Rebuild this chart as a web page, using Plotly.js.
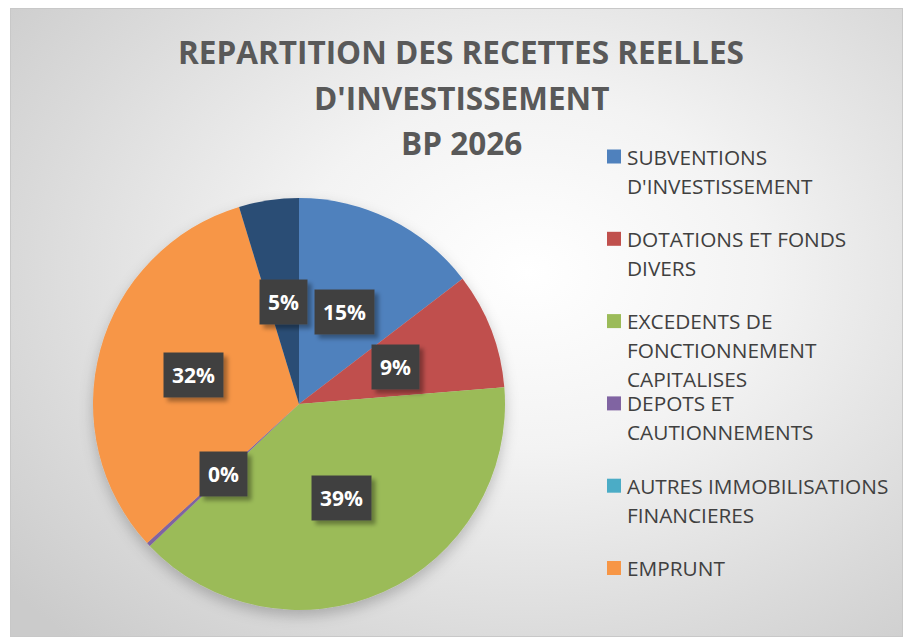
<!DOCTYPE html>
<html>
<head>
<meta charset="utf-8">
<script src="https://cdn.plot.ly/plotly-3.0.1.min.js"></script>
<style>
body{margin:0;background:#fff}
#frame{position:absolute;left:10px;top:8px;width:891px;height:627px;border:1px solid #c8c8c8;
  background:radial-gradient(ellipse 75% 80% at 58% 42%,#ffffff 0%,#f3f3f3 35%,#dadada 75%,#cbcbcb 100%)}
#chart{position:absolute;left:0;top:0;width:903px;height:637px}
</style>
</head>
<body>
<svg width="0" height="0" style="position:absolute">
  <defs>
    <filter id="boxshadow" x="-30%" y="-30%" width="160%" height="160%">
      <feDropShadow dx="4" dy="4" stdDeviation="2" flood-color="#000" flood-opacity="0.35"/>
    </filter>
    <filter id="pieshadow" x="-10%" y="-10%" width="120%" height="125%">
      <feDropShadow dx="0" dy="6" stdDeviation="7" flood-color="#000" flood-opacity="0.22"/>
    </filter>
  </defs>
</svg>
<div id="frame"></div>
<div id="chart"></div>
<script>
// recettes reelles d'investissement BP 2026 (valeurs en %)
const labels=["SUBVENTIONS D'INVESTISSEMENT","DOTATIONS ET FONDS DIVERS","EXCEDENTS DE FONCTIONNEMENT CAPITALISES","DEPOTS ET CAUTIONNEMENTS","AUTRES IMMOBILISATIONS FINANCIERES","EMPRUNT","AUTRES"];
const values=[14.6,9.1,39.2,0.3,0,32.1,4.7];
const colors=["#4f81bd","#c0504d","#9bbb59","#8064a2","#4bacc6","#f79646","#2c4d75"];
// legende telle qu'affichee (la derniere serie n'y figure pas)
const legendText=["SUBVENTIONS<br>D'INVESTISSEMENT","DOTATIONS ET FONDS<br>DIVERS","EXCEDENTS DE<br>FONCTIONNEMENT<br>CAPITALISES","DEPOTS ET<br>CAUTIONNEMENTS","AUTRES IMMOBILISATIONS<br>FINANCIERES","EMPRUNT"];
const titleLines=["REPARTITION DES RECETTES REELLES","D'INVESTISSEMENT","BP 2026"];

const W=903,H=637;
const dom={x:[93/W,505/W],y:[27/H,439/H]};
const R=206;

let trace={type:"pie",labels:labels,values:values,sort:false,direction:"clockwise",rotation:0,
  marker:{colors:colors,line:{width:0}},textinfo:"none",hoverinfo:"label+percent",showlegend:false,domain:dom};

let annotations=[];
let shapes=[];
let total=values.reduce((a,b)=>a+b,0);
let cx=(dom.x[0]+dom.x[1])/2, cy=(dom.y[0]+dom.y[1])/2;
let cum=0;
for(let i=0;i<values.length;i++){
  let v=values[i];
  let mid=(cum+v/2)/total*2*Math.PI;
  cum+=v;
  if(v<=0) continue;
  let r=(v/total>0.25 && v/total<0.35 ? 0.53 : 0.5)*R;
  let px=cx+r*Math.sin(mid)/W, py=cy+r*Math.cos(mid)/H;
  let txt=Math.round(v/total*100)+"%";
  annotations.push({x:px,y:py,xref:"paper",yref:"paper",xanchor:"center",yanchor:"middle",text:txt,showarrow:false,
    bgcolor:"#404040",borderpad:8,font:{family:"Open Sans",size:21,color:"#ffffff",weight:"bold"}});
}

// titre
for(let j=0;j<titleLines.length;j++){
  annotations.push({x:461/W,y:1-(52+j*45)/H,xref:"paper",yref:"paper",xanchor:"center",yanchor:"middle",
    text:titleLines[j],showarrow:false,font:{family:"Open Sans",size:31.5,color:"#595959",weight:"bold"}});
}

// legende
for(let i=0;i<legendText.length;i++){
  let y0=156.5+i*82.3;
  shapes.push({type:"rect",xref:"paper",yref:"paper",x0:607/W,x1:621/W,y0:1-(y0-7)/H,y1:1-(y0+7)/H,
    fillcolor:colors[i],line:{width:0}});
  let lines=legendText[i].split("<br>");
  for(let j=0;j<lines.length;j++){
    annotations.push({x:625/W,y:1-(y0+j*29)/H,xref:"paper",yref:"paper",xanchor:"left",yanchor:"middle",
      text:lines[j],showarrow:false,font:{family:"Open Sans",size:20.8,color:"#404040"}});
  }
}

let layout={width:W,height:H,margin:{l:0,r:0,t:0,b:0},
  paper_bgcolor:"rgba(0,0,0,0)",plot_bgcolor:"rgba(0,0,0,0)",
  annotations:annotations,shapes:shapes,showlegend:false};

Plotly.newPlot("chart",[trace],layout,{displayModeBar:false}).then(function(){
  document.querySelectorAll("#chart .pielayer").forEach(function(g){g.setAttribute("filter","url(#pieshadow)");});
  document.querySelectorAll("#chart .annotation rect.bg").forEach(function(rc){
    if((rc.style.fill||"").indexOf("64, 64, 64")>=0) rc.setAttribute("filter","url(#boxshadow)");
  });
});
</script>
</body>
</html>
